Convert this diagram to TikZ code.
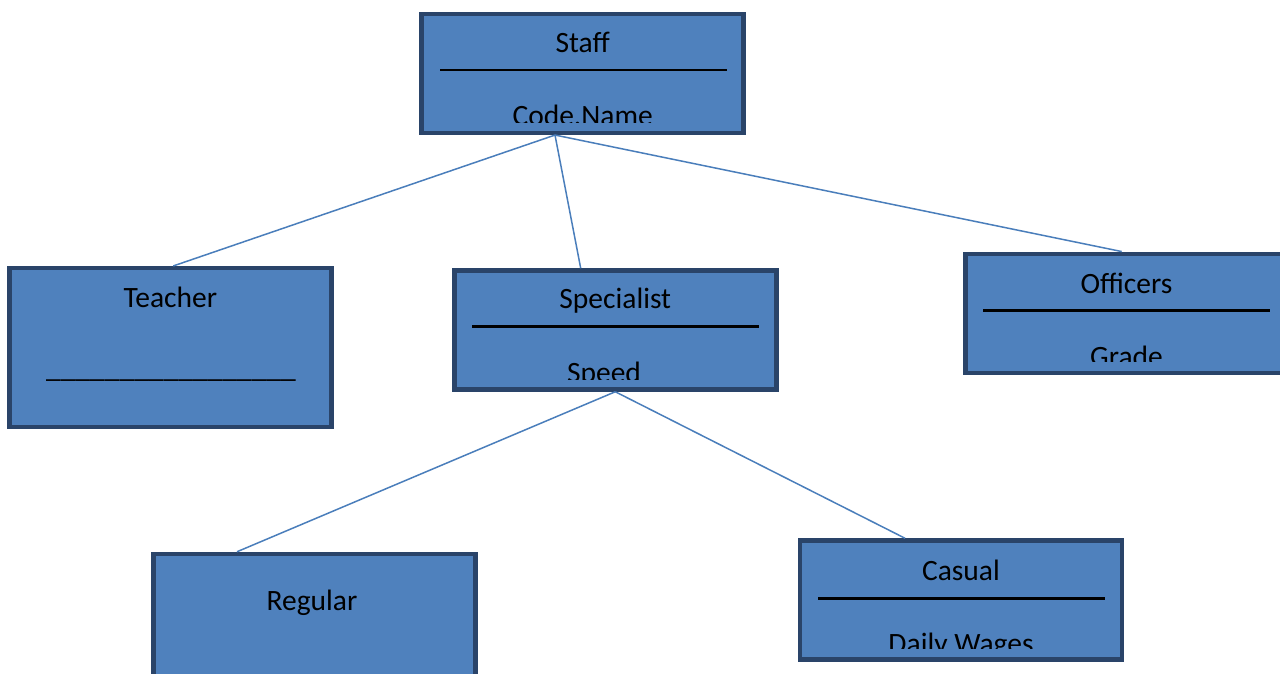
\documentclass[tikz,border=0pt]{standalone}
\usepackage{fontspec}
\setmainfont{Carlito}
\usepackage{tikz}
\definecolor{boxfill}{HTML}{4F81BD}
\definecolor{boxline}{HTML}{2A4469}
\definecolor{linkcol}{HTML}{4A7EBB}
\tikzset{
	classbox/.style={rectangle, draw=boxline, fill=boxfill, line width=4.5pt, minimum width=322pt, minimum height=119pt, inner sep=0pt},
	tallbox/.style={classbox, minimum height=159pt},
	cname/.style={anchor=base, inner sep=0pt, font=\fontsize{29.5pt}{35pt}\selectfont},
	sepline/.style={black, line width=3pt},
	link/.style={linkcol, line width=1.5pt}
}

\begin{document}
\begin{tikzpicture}[x=1pt,y=-1pt]
	\useasboundingbox (0,0) rectangle (1280,674);
	\fill[white] (0,0) rectangle (1280,674);

	\node[classbox] (staff) at (582.7,73.3) {};
	\node[tallbox] (teacher) at (170.3,347.7) {};
	\node[classbox] (specialist) at (615.3,330) {};
	\node[classbox] (officers) at (1126.5,313.3) {};
	\node[tallbox] (regular) at (314.7,633.5) {};
	\node[classbox] (casual) at (961,600) {};

	\node[cname] (staff-n) at (582.7,53) {Staff};
	\node[cname] (teacher-n) at (170.3,307.7) {Teacher};
	\node[cname] (specialist-n) at (615.3,308.3) {Specialist};
	\node[cname] (officers-n) at (1126.5,293.3) {Officers};
	\node[cname] (regular-n) at (312,610) {Regular};
	\node[cname] (casual-n) at (961,580) {Casual};

	\draw[sepline, line width=1.8pt] (440,70) -- (727,70);
	\draw[sepline] (472,326.7) -- (759,326.7);
	\draw[sepline] (983,310.7) -- (1270,310.7);
	\draw[sepline] (818,598.3) -- (1105,598.3);
	\node[cname] (teacher-a) at (171,377) {\_\_\_\_\_\_\_\_\_\_\_\_\_\_\_\_\_};

	\begin{scope}
		\clip (425,80) rectangle (742,122.3);
		\node[cname] (staff-a) at (582.7,125.5) {Code.Name};
	\end{scope}
	\begin{scope}
		\clip (457,335) rectangle (774,379);
		\node[cname] (specialist-a) at (604,382.4) {Speed};
	\end{scope}
	\begin{scope}
		\clip (967,320) rectangle (1280,361.7);
		\node[cname] (officers-a) at (1126.5,366.7) {Grade};
	\end{scope}
	\begin{scope}
		\clip (802,605) rectangle (1120,648.3);
		\node[cname] (casual-a) at (961,653.4) {Daily Wages};
	\end{scope}

	\draw[link] ([xshift=-27.7pt]staff.south) -- ([xshift=3pt]teacher.north);
	\draw[link] ([xshift=-27.7pt]staff.south) -- ([xshift=-34.6pt]specialist.north);
	\draw[link] ([xshift=-27.7pt]staff.south) -- ([xshift=-4.8pt]officers.north);
	\draw[link] (specialist.south) -- ([xshift=-77.7pt]regular.north);
	\draw[link] (specialist.south) -- ([xshift=-56pt]casual.north);
\end{tikzpicture}
\end{document}
